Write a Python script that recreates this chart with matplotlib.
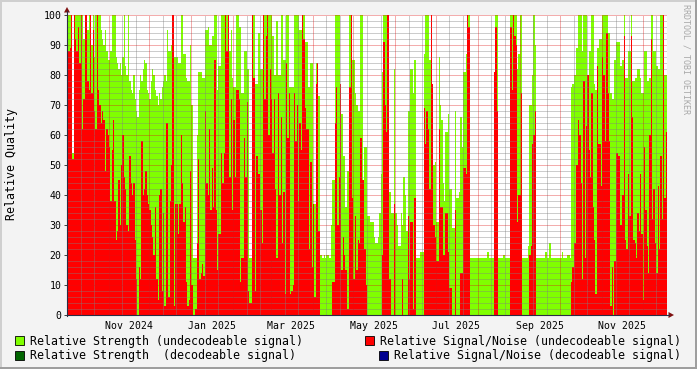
import datetime as dt
import matplotlib
matplotlib.use("Agg")
import matplotlib.pyplot as plt
import matplotlib.dates as mdates
from matplotlib.lines import Line2D
from matplotlib.patches import Polygon, Rectangle

plt.rcParams['font.family'] = 'DejaVu Sans Mono'

# daily values, starting 2024-10-01
strength = [
    87, 100, 100, 100, 54, 100, 100, 100, 100, 100, 100, 100, 92, 90, 88, 95, 100, 100, 90, 100,
    86, 100, 100, 100, 100, 95, 92, 90, 95, 88, 85, 85, 88, 100, 100, 100, 86, 84, 82, 84,
    80, 86, 100, 83, 80, 100, 78, 75, 74, 80, 72, 68, 66, 75, 80, 78, 82, 85, 84, 75,
    74, 72, 78, 82, 80, 75, 73, 70, 74, 72, 76, 78, 80, 78,
    95, 88, 88, 90, 90, 86, 86, 86, 84, 84, 100, 100, 87, 87, 79, 78, 78, 90, 70, 19,
    19, 19, 60, 81, 81, 81, 79, 79, 95, 95, 96, 90, 90, 93, 93, 100, 100, 75, 83, 83,
    100, 100, 100, 100, 100, 100, 88, 95, 79, 76, 76, 100, 100, 96, 96, 74, 74, 88, 88, 82,
    82, 19, 19, 100, 100, 77, 77, 94, 94, 82, 82, 100, 100, 100,
    100, 100, 100, 100, 93, 80, 80, 98, 80, 80, 100, 100, 85, 85, 100, 100, 76, 76, 76, 76,
    100, 100, 100, 100, 95, 95, 100, 100, 91, 91, 76, 76, 84, 84, 37, 37, 84, 84, 73, 20,
    20, 19, 20, 19, 20, 20, 19, 30, 45, 45, 100, 100, 100, 100, 67, 67, 53, 53, 36, 48,
    48, 100, 100, 85, 85, 74, 70, 68, 68, 100, 100, 42, 56, 56,
    33, 33, 31, 31, 31, 26, 24, 24, 26, 34, 47, 81, 100, 100, 100, 74, 41, 41, 34, 34,
    82, 34, 30, 23, 23, 34, 30, 46, 40, 28, 68, 68, 82, 82, 74, 85, 19, 19, 19, 21,
    21, 21, 87, 100, 100, 100, 85, 100, 50, 50, 51, 31, 31, 86, 70, 65, 44, 38, 61, 61,
    67, 42, 42, 29, 29, 68, 39, 39, 41, 66, 56, 81, 81, 87,
    100, 100, 19, 19, 19, 19, 19, 19, 19, 19, 19, 19, 19, 19, 19, 21, 19, 19, 19, 19,
    63, 100, 100, 19, 19, 19, 19, 20, 19, 19, 19, 19, 100, 100, 100, 100, 100, 82, 87, 100,
    100, 19, 19, 19, 19, 23, 70, 70, 80, 100, 90, 19, 19, 19, 19, 19, 19, 19, 21, 19,
    19, 24, 19, 19, 19, 19, 19, 19, 19, 19, 21, 19, 19, 19,
    20, 20, 19, 76, 77, 80, 80, 89, 100, 100, 100, 88, 100, 100, 100, 74, 88, 88, 100, 100,
    77, 75, 89, 89, 92, 92, 100, 100, 100, 100, 94, 94, 74, 72, 72, 85, 91, 91, 91, 83,
    83, 85, 100, 79, 79, 88, 88, 100, 78, 78, 79, 79, 82, 82, 79, 74, 74, 88, 88, 78,
    78, 79, 100, 100, 88, 88, 83, 82, 82, 100, 100, 100, 80, 80,
]
snr = [
    38, 88, 89, 100, 52, 100, 92, 88, 96, 84, 100, 62, 72, 100, 100, 78, 75, 100, 74, 95,
    68, 62, 100, 75, 70, 64, 68, 65, 48, 62, 60, 56, 38, 55, 65, 38, 25, 28, 45, 30,
    50, 60, 46, 42, 30, 28, 53, 44, 40, 44, 25, 12, 0, 16, 12, 58, 40, 42, 48, 40,
    37, 35, 30, 26, 20, 36, 12, 5, 40, 42, 8, 34, 3, 64,
    64, 6, 38, 50, 100, 3, 37, 37, 27, 37, 60, 44, 31, 36, 11, 3, 5, 48, 10, 0,
    0, 2, 24, 52, 12, 14, 17, 13, 68, 44, 40, 62, 35, 49, 36, 85, 35, 15, 27, 27,
    54, 44, 54, 100, 88, 100, 46, 72, 35, 65, 46, 75, 75, 72, 11, 19, 19, 59, 46, 71,
    8, 4, 4, 100, 79, 8, 53, 47, 47, 35, 24, 100, 72, 93,
    100, 60, 82, 72, 54, 72, 42, 19, 74, 40, 66, 24, 41, 7, 84, 59, 74, 7, 8, 10,
    74, 58, 70, 38, 64, 55, 100, 92, 69, 62, 62, 22, 51, 16, 37, 6, 77, 84, 28, 0,
    0, 0, 0, 0, 0, 0, 0, 0, 11, 11, 64, 76, 30, 46, 77, 15, 26, 20, 15, 2,
    2, 76, 100, 39, 12, 33, 15, 25, 24, 59, 45, 45, 22, 10,
    0, 0, 0, 0, 0, 0, 0, 0, 0, 0, 0, 20, 91, 70, 61, 100, 12, 12, 0, 0,
    37, 0, 0, 0, 0, 0, 12, 0, 0, 0, 33, 12, 31, 31, 2, 39, 0, 0, 0, 0,
    0, 0, 69, 57, 68, 62, 42, 100, 77, 30, 26, 18, 18, 62, 36, 36, 20, 20, 34, 34,
    21, 9, 9, 0, 0, 35, 0, 0, 0, 14, 14, 49, 49, 47,
    100, 96, 0, 0, 0, 0, 0, 0, 0, 0, 0, 0, 0, 0, 0, 0, 0, 0, 0, 0,
    81, 96, 68, 0, 0, 0, 0, 0, 0, 0, 0, 0, 96, 75, 100, 93, 90, 31, 40, 40,
    74, 0, 0, 0, 0, 0, 20, 23, 57, 60, 68, 0, 0, 0, 0, 0, 0, 0, 0, 0,
    0, 0, 0, 0, 0, 0, 0, 0, 0, 0, 0, 0, 0, 0,
    0, 0, 0, 11, 16, 24, 24, 50, 65, 60, 44, 12, 78, 19, 63, 80, 55, 46, 74, 36,
    25, 7, 83, 57, 57, 43, 86, 80, 58, 94, 74, 58, 3, 16, 0, 18, 54, 54, 53, 30,
    30, 40, 93, 25, 22, 47, 33, 93, 66, 25, 24, 19, 34, 28, 47, 27, 5, 56, 35, 23,
    14, 60, 92, 32, 42, 24, 14, 43, 22, 53, 32, 100, 39, 61,
]
start = dt.date(2024, 10, 1)
label_months = [(2024, 11), (2025, 1), (2025, 3), (2025, 5), (2025, 7), (2025, 9), (2025, 11)]
legend_left = ["Relative Strength (undecodeable signal)", "Relative Strength  (decodeable signal)"]
legend_right = ["Relative Signal/Noise (undecodeable signal)", "Relative Signal/Noise (decodeable signal)"]
colors = {"str_u": "#80FF00", "str_d": "#006400", "snr_u": "#FF0000", "snr_d": "#000090"}

W, H = 697, 369
def fx(x): return x / W
def fy(y): return 1 - y / H

days = [start + dt.timedelta(days=i) for i in range(len(strength) + 1)]
edges = mdates.date2num(days)

fig = plt.figure(figsize=(W / 100, H / 100), dpi=100, facecolor="#F3F3F3")
ax = fig.add_axes([fx(67), fy(315), fx(667) - fx(67), fy(15) - fy(315)])
ax.set_facecolor("white")

ax.stairs(strength, edges, fill=True, color=colors["str_u"], lw=0)
ax.stairs(snr, edges, fill=True, color=colors["snr_u"], lw=0)

ax.set_xlim(edges[0], edges[-1])
ax.set_ylim(0, 100)

# grid on top, rrdtool style (1px dots, no antialiasing)
minor_c = (0.5, 0.5, 0.5, 0.4)
major_c = (0.87, 0.08, 0.08, 0.35)
gkw = dict(lw=0.72, dashes=(1, 1), antialiased=False)
for v in range(2, 100, 2):
    if v % 10:
        ax.axhline(v, color=minor_c, zorder=5, **gkw)
for v in range(10, 101, 10):
    ax.axhline(v, color=major_c, zorder=6, **gkw)
y, m = 2024, 10
while (y, m) <= (2025, 12):
    m0 = mdates.date2num(dt.date(y, m, 1))
    if (y, m) != (2024, 10):
        ax.axvline(m0, color=major_c, zorder=6, **gkw)
    for d in (10, 20):
        ax.axvline(m0 + d, color=minor_c, zorder=5, **gkw)
    m += 1
    if m > 12:
        y, m = y + 1, 1

ticks = [mdates.date2num(dt.date(y, m, 1)) + 15 for y, m in label_months]
ax.set_xticks(ticks)
ax.set_xticklabels([dt.date(y, m, 1).strftime("%b %Y") for y, m in label_months], fontsize=7.1)
ax.tick_params(axis="x", length=0, pad=4)
ax.set_yticks(range(0, 101, 10))
ax.set_yticklabels([str(v) for v in range(0, 101, 10)], fontsize=7.1)
ax.tick_params(axis="y", length=2, width=0.7, color="#404040", pad=2)
for s in ax.spines.values():
    s.set_visible(False)

axis_c = "#2C2C44"
arrow_c = "#7F1010"
fig.add_artist(Line2D([fx(67), fx(67)], [fy(315.5), fy(11)], color=axis_c, lw=0.8, transform=fig.transFigure))
fig.add_artist(Line2D([fx(66.5), fx(669)], [fy(315), fy(315)], color=axis_c, lw=0.8, transform=fig.transFigure))
fig.add_artist(Polygon([[fx(64), fy(12.5)], [fx(70), fy(12.5)], [fx(67), fy(7)]], closed=True,
                       fc=arrow_c, ec="none", transform=fig.transFigure))
fig.add_artist(Polygon([[fx(668.5), fy(312)], [fx(668.5), fy(318)], [fx(674), fy(315)]], closed=True,
                       fc=arrow_c, ec="none", transform=fig.transFigure))

fig.text(fx(12), fy(164), "Relative Quality", rotation=90, ha="center", va="center", fontsize=8.4)
fig.text(fx(686), fy(59), "RRDTOOL / TOBI OETIKER", rotation=270, ha="center", va="center",
         fontsize=6, color="#A8A8A8")

# legend
def square(x, y, c):
    fig.add_artist(Rectangle((fx(x), fy(y + 9)), 9 / W, 9 / H, fc=c, ec="black", lw=0.6,
                             transform=fig.transFigure))

square(15, 336, colors["str_u"])
fig.text(fx(30), fy(341), legend_left[0], va="center", fontsize=8.4)
square(15, 350.5, colors["str_d"])
fig.text(fx(30), fy(355.5), legend_left[1], va="center", fontsize=8.4)
square(365, 336, colors["snr_u"])
fig.text(fx(380), fy(341), legend_right[0], va="center", fontsize=8.4)
square(379, 350.5, colors["snr_d"])
fig.text(fx(394), fy(355.5), legend_right[1], va="center", fontsize=8.4)

# 3d frame
fig.add_artist(Rectangle((0, fy(2)), 1, 2 / H, fc="#CFCFCF", ec="none", transform=fig.transFigure))
fig.add_artist(Rectangle((0, 0), 2 / W, 1, fc="#CFCFCF", ec="none", transform=fig.transFigure))
fig.add_artist(Rectangle((0, 0), 1, 2 / H, fc="#9E9E9E", ec="none", transform=fig.transFigure))
fig.add_artist(Rectangle((fx(695), 0), 2 / W, 1, fc="#9E9E9E", ec="none", transform=fig.transFigure))

fig.savefig("out.png", dpi=100, facecolor=fig.get_facecolor())
